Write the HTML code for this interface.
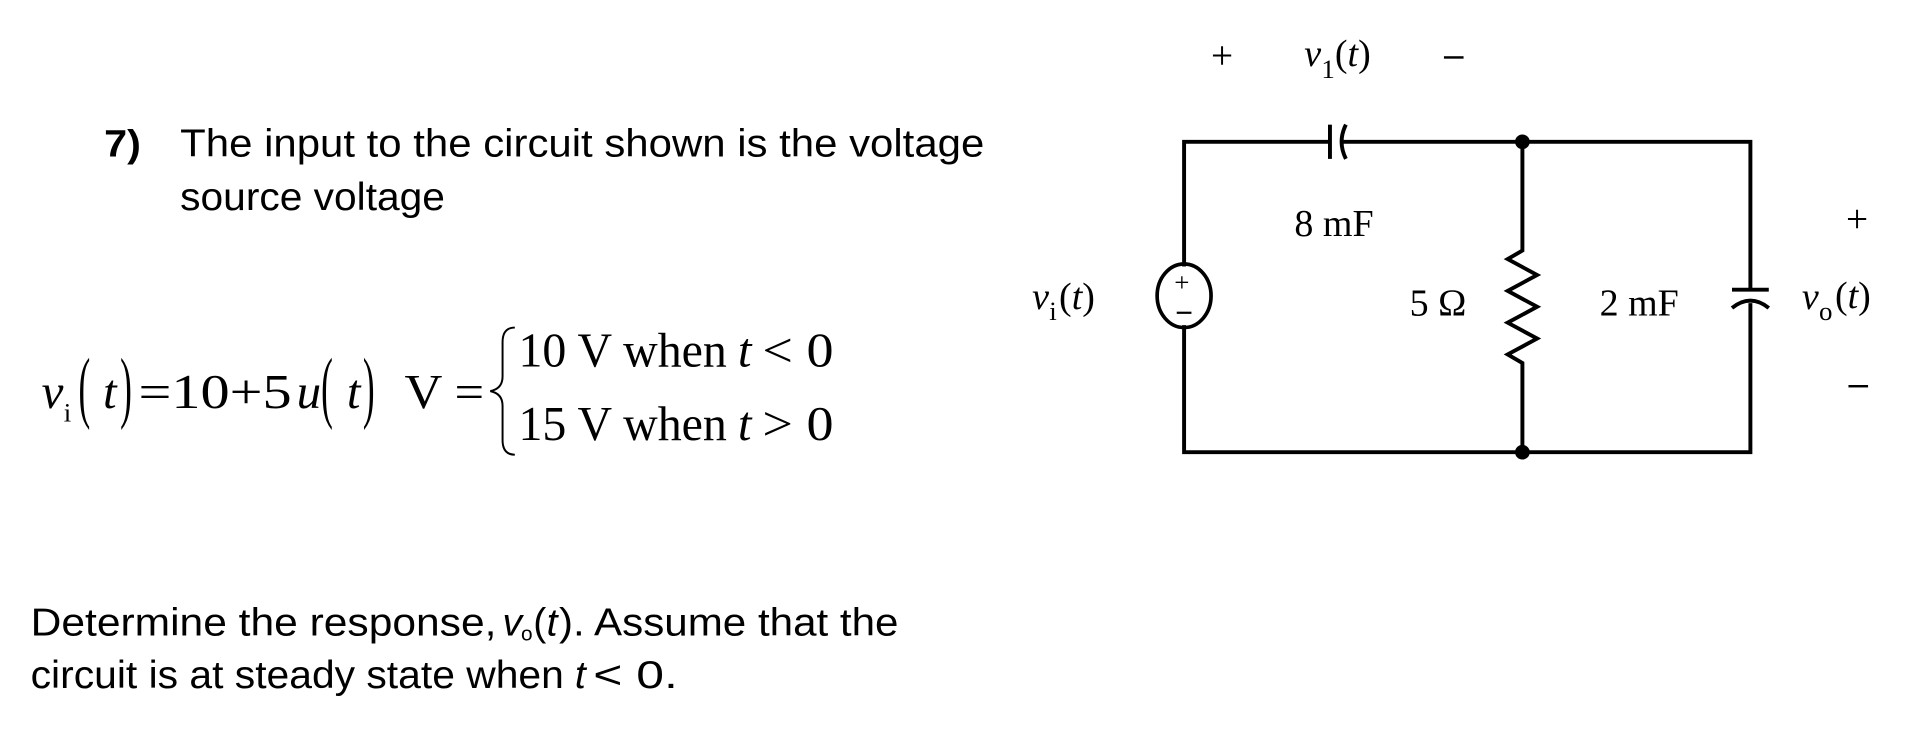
<!DOCTYPE html>
<html><head><meta charset="utf-8"><style>
html,body{margin:0;padding:0;background:#fff;}
svg{display:block}
</style></head><body>
<svg width="1922" height="748" viewBox="0 0 1568 612" preserveAspectRatio="none" xmlns="http://www.w3.org/2000/svg">
<rect width="1568" height="612" fill="#fff"/>
<g font-family="Liberation Sans, sans-serif">
<text x="85" y="128" font-size="31" font-weight="bold" textLength="30" lengthAdjust="spacingAndGlyphs">7)</text>
<text x="147" y="128" font-size="32" textLength="656" lengthAdjust="spacingAndGlyphs">The input to the circuit shown is the voltage</text>
<text x="147" y="172" font-size="32" textLength="216" lengthAdjust="spacingAndGlyphs">source voltage</text>
<text x="25" y="520" font-size="32" textLength="380" lengthAdjust="spacingAndGlyphs">Determine the response,</text>
<text x="410" y="520" font-size="32" font-style="italic">v</text>
<text x="425" y="524" font-size="17">o</text>
<text x="435" y="520" font-size="32">(</text>
<text x="446" y="520" font-size="32" font-style="italic">t</text>
<text x="456" y="520" font-size="32" textLength="277" lengthAdjust="spacingAndGlyphs">). Assume that the</text>
<text x="25" y="563" font-size="32" textLength="435" lengthAdjust="spacingAndGlyphs">circuit is at steady state when</text>
<text x="469" y="563" font-size="32" font-style="italic">t</text>
<text x="484" y="563" font-size="32" textLength="69" lengthAdjust="spacingAndGlyphs">&lt; 0.</text>
</g>

<g font-family="Liberation Serif, serif" fill="#000">
<text x="34" y="334" font-size="40" font-style="italic">v</text>
<text x="52" y="345" font-size="22">i</text>
<text x="64" y="338" font-size="48" transform="translate(64 338) scale(0.6 1.35) translate(-64 -338)">(</text>
<text x="84" y="334" font-size="40" font-style="italic">t</text>
<text x="98" y="338" font-size="48" transform="translate(98 338) scale(0.6 1.35) translate(-98 -338)">)</text>
<text x="113" y="334" font-size="40" textLength="125" lengthAdjust="spacingAndGlyphs">=10+5</text>
<text x="242" y="334" font-size="40" font-style="italic">u</text>
<text x="262" y="338" font-size="48" transform="translate(262 338) scale(0.6 1.35) translate(-262 -338)">(</text>
<text x="283" y="334" font-size="40" font-style="italic">t</text>
<text x="296" y="338" font-size="48" transform="translate(296 338) scale(0.6 1.35) translate(-296 -338)">)</text>
<text x="330" y="334" font-size="40" textLength="65" lengthAdjust="spacingAndGlyphs">V =</text>
<text x="423" y="300" font-size="40" textLength="170" lengthAdjust="spacingAndGlyphs">10 V when</text>
<text x="602" y="300" font-size="40" font-style="italic">t</text>
<text x="622" y="300" font-size="40" textLength="58" lengthAdjust="spacingAndGlyphs">&lt; 0</text>
<text x="423" y="360" font-size="40" textLength="170" lengthAdjust="spacingAndGlyphs">15 V when</text>
<text x="602" y="360" font-size="40" font-style="italic">t</text>
<text x="622" y="360" font-size="40" textLength="58" lengthAdjust="spacingAndGlyphs">&gt; 0</text>
</g>
<path d="M420 268 Q410 268 410 280 L410 308 Q410 318 400 320 Q410 322 410 332 L410 360 Q410 372 420 372" fill="none" stroke="#000" stroke-width="1.6"/>

<g stroke="#000" stroke-width="3.2" fill="none">
<path d="M966 218 L966 116 L1085 116 M1096 116 L1428 116 L1428 237 M1428 248 L1428 370 L966 370 L966 266"/>
<path d="M1242 116 L1242 205 L1230 212 L1254 225 L1230 238 L1254 251 L1230 264 L1254 277 L1230 290 L1242 297 L1242 370"/>
<path d="M1085 102 L1085 130"/>
<path d="M1098 102 Q1091 116 1098 130"/>
<path d="M1413 237 L1443 237"/>
<path d="M1413 252 Q1428 240 1443 252"/>
<ellipse cx="966" cy="242" rx="22" ry="26" stroke-width="3"/>
</g>
<circle cx="1242" cy="116" r="6"/>
<circle cx="1242" cy="370" r="6"/>
<g font-family="Liberation Serif, serif" fill="#000">
<text x="958" y="238" font-size="22">+</text>
<rect x="960" y="255" width="12" height="1.8"/>
<text x="988" y="56" font-size="32">+</text>
<text x="1064" y="54" font-style="italic" font-size="31">v</text>
<text x="1078" y="64" font-size="22">1</text>
<text x="1089" y="54" font-size="31">(<tspan font-style="italic">t</tspan>)</text>
<rect x="1178" y="46" width="16" height="2"/>
<text x="1056" y="193" font-size="31">8 mF</text>
<text x="842" y="253" font-style="italic" font-size="31">v</text>
<text x="856" y="262" font-size="22">i</text>
<text x="864" y="253" font-size="31">(<tspan font-style="italic">t</tspan>)</text>
<text x="1150" y="258" font-size="31">5 Ω</text>
<text x="1305" y="258" font-size="31">2 mF</text>
<text x="1470" y="253" font-style="italic" font-size="31">v</text>
<text x="1484" y="262" font-size="22">o</text>
<text x="1497" y="252" font-size="31">(<tspan font-style="italic">t</tspan>)</text>
<text x="1506" y="190" font-size="32">+</text>
<rect x="1508" y="315" width="16" height="2"/>
</g>
</svg>
</body></html>
